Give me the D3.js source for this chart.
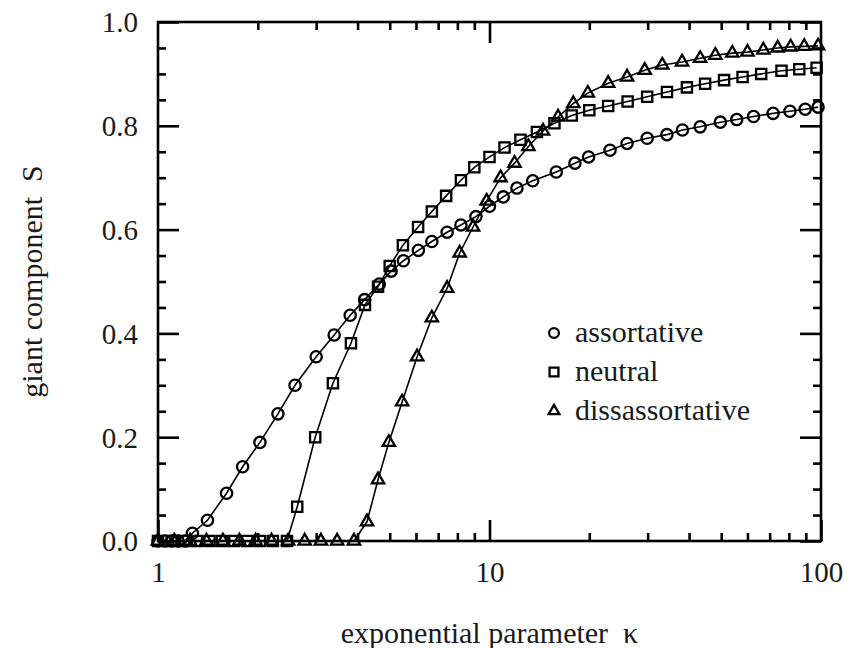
<!DOCTYPE html>
<meta charset="utf-8">
<head>
	<title>giant component vs exponential parameter</title>
	<style>
		body { margin: 0; background: #fff; }
		svg { display: block; }
		svg text { font-family: "Liberation Serif", "DejaVu Serif", serif !important; fill: #1a1a1a; }
		.frame { fill: none; stroke: #000; stroke-width: 2.6; }
		.tick line { stroke: #000; stroke-width: 2.6; }
		.domain { display: none; }
		.curve { fill: none; stroke: #000; stroke-width: 1.6; }
		.mark { fill: none; stroke: #000; stroke-width: 2.3; }
	</style>
	<script src="https://cdn.jsdelivr.net/npm/d3@7"></script>
</head>
<body>
<div id="chart"></div>
<script>
	// values
	const assortK = [1.0, 1.05, 1.1, 1.15, 1.21, 1.27, 1.41, 1.61, 1.80, 2.03, 2.30, 2.59, 3.0, 3.4, 3.8, 4.2, 4.65, 5.05, 5.5, 6.1, 6.7, 7.45, 8.2, 9.1, 10.0, 11.0, 12.1, 13.5, 15.9, 18.1, 19.9, 23.1, 26.0, 29.9, 34.3, 38.2, 43.2, 49.7, 55.7, 62.6, 71.7, 80.6, 89.6, 98];
	const assortS = [0, 0, 0, 0, 0, 0.015, 0.04, 0.092, 0.143, 0.19, 0.245, 0.30, 0.355, 0.397, 0.435, 0.465, 0.495, 0.52, 0.54, 0.56, 0.577, 0.595, 0.609, 0.625, 0.645, 0.663, 0.68, 0.694, 0.711, 0.728, 0.74, 0.753, 0.766, 0.776, 0.783, 0.792, 0.798, 0.807, 0.812, 0.818, 0.824, 0.828, 0.832, 0.836];

	const neutralK = [1.0, 1.1, 1.2, 1.31, 1.43, 1.56, 1.7, 1.86, 2.03, 2.22, 2.45, 2.63, 2.98, 3.37, 3.82, 4.21, 4.61, 5.0, 5.48, 6.09, 6.7, 7.4, 8.2, 9.0, 10.0, 11.1, 12.4, 13.9, 15.7, 17.7, 20.0, 22.8, 26.1, 29.9, 34.3, 39.4, 44.7, 51, 58, 66, 76, 86, 97];
	const neutralS = [0, 0, 0, 0, 0, 0, 0, 0, 0, 0, 0, 0.066, 0.20, 0.304, 0.381, 0.455, 0.49, 0.53, 0.57, 0.605, 0.635, 0.665, 0.695, 0.72, 0.74, 0.758, 0.773, 0.788, 0.805, 0.82, 0.83, 0.838, 0.847, 0.856, 0.865, 0.874, 0.881, 0.888, 0.894, 0.9, 0.906, 0.909, 0.912];

	const disK = [1.0, 1.12, 1.25, 1.4, 1.57, 1.76, 1.97, 2.2, 2.47, 2.77, 3.1, 3.47, 3.9, 4.27, 4.61, 4.97, 5.45, 6.05, 6.7, 7.45, 8.13, 8.92, 9.8, 10.8, 11.9, 13.1, 14.5, 16.1, 17.9, 19.8, 22.8, 26, 29.4, 33.2, 38.1, 43.2, 48, 54, 60, 67, 74, 81, 89, 98];
	const disS = [0, 0, 0, 0, 0, 0, 0, 0, 0, 0, 0, 0, 0, 0.037, 0.118, 0.19, 0.268, 0.355, 0.43, 0.487, 0.555, 0.605, 0.655, 0.70, 0.728, 0.76, 0.79, 0.817, 0.843, 0.863, 0.882, 0.894, 0.907, 0.917, 0.923, 0.93, 0.936, 0.94, 0.942, 0.946, 0.95, 0.952, 0.953, 0.954];

	const seriesNames = ['assortative', 'neutral', 'dissassortative'];
	const xMajor = [1, 10, 100];
	const xMinor = [2, 3, 4, 5, 6, 7, 8, 9, 20, 30, 40, 50, 60, 70, 80, 90];
	const yMajor = [0, 0.2, 0.4, 0.6, 0.8, 1.0];
	const yMinor = [0.05, 0.1, 0.15, 0.25, 0.3, 0.35, 0.45, 0.5, 0.55, 0.65, 0.7, 0.75, 0.85, 0.9, 0.95];

	const W = 857, H = 648;
	const M = {left: 158, right: 36, top: 22, bottom: 107};
	const iw = W - M.left - M.right, ih = H - M.top - M.bottom;
	const FONT = '"Liberation Serif", "DejaVu Serif", serif';

	const svg = d3.select('#chart').append('svg').attr('width', W).attr('height', H);
	const g = svg.append('g').attr('transform', `translate(${M.left},${M.top})`);

	const x = d3.scaleLog().domain([1, 100]).range([0, iw]);
	const y = d3.scaleLinear().domain([0, 1]).range([ih, 0]);

	const BIG = 21, SMALL = 8;
	// ticks on all four sides, pointing inward
	const addAxis = (axis, vals, size, tr, labels) => {
		const a = axis.tickValues(vals).tickSize(-size).tickPadding(0);
		if (!labels) a.tickFormat('');
		return g.append('g').attr('transform', tr).call(a).attr('font-family', FONT);
	};
	addAxis(d3.axisBottom(x), xMinor, SMALL, `translate(0,${ih})`);
	addAxis(d3.axisTop(x), xMinor, SMALL, 'translate(0,0)');
	addAxis(d3.axisTop(x), [10], BIG, 'translate(0,0)');
	addAxis(d3.axisLeft(y), yMinor, SMALL, 'translate(0,0)');
	addAxis(d3.axisRight(y), yMinor, SMALL, `translate(${iw},0)`);
	addAxis(d3.axisRight(y), yMajor, BIG, `translate(${iw},0)`);

	const bx = addAxis(d3.axisBottom(x), xMajor, BIG, `translate(0,${ih})`, true);
	bx.selectAll('text').attr('y', 41).attr('dy', 0).style('font-size', '29px').style('font-family', FONT)
		.text(d => d3.format('d')(d));
	const ly = addAxis(d3.axisLeft(y), yMajor, BIG, 'translate(0,0)', true);
	ly.selectAll('text').attr('x', -20).attr('dy', '0.34em').style('font-size', '29px').style('font-family', FONT)
		.text(d => d3.format('.1f')(d));

	g.append('rect').attr('class', 'frame').attr('width', iw).attr('height', ih);

	const series = [
		{k: assortK, s: assortS, sym: d3.symbolCircle, size: 100},
		{k: neutralK, s: neutralS, sym: d3.symbolSquare, size: 105},
		{k: disK, s: disS, sym: d3.symbolTriangle, size: 66}
	];
	const line = d3.line().x(d => x(d[0])).y(d => y(d[1]));

	series.forEach(sr => {
		const pts = sr.k.map((k, i) => [k, sr.s[i]]);
		g.append('path').attr('class', 'curve').attr('d', line(pts));
		g.selectAll(null).data(pts).enter().append('path')
			.attr('class', 'mark')
			.attr('transform', d => `translate(${x(d[0])},${y(d[1])})`)
			.attr('d', d3.symbol().type(sr.sym).size(sr.size));
	});

	// legend
	const leg = svg.append('g').attr('transform', 'translate(554,342)');
	series.forEach((sr, i) => {
		const row = leg.append('g').attr('transform', `translate(0,${i * 39})`);
		row.append('path').attr('class', 'mark').attr('transform', 'translate(0,-9)')
			.attr('d', d3.symbol().type(sr.sym).size(sr.size * 0.75));
		row.append('text').attr('x', 21).attr('y', 0)
			.style('font-size', '30px').style('font-family', FONT).text(seriesNames[i]);
	});

	// axis titles
	svg.append('text').attr('x', M.left + iw / 2).attr('y', 643).attr('text-anchor', 'middle')
		.style('font-size', '30px').style('font-family', FONT).style('white-space', 'pre')
		.text('exponential parameter  \u03ba');
	svg.append('text').attr('transform', `translate(42,${M.top + ih / 2}) rotate(-90)`)
		.attr('text-anchor', 'middle').style('font-size', '30px').style('font-family', FONT).style('white-space', 'pre')
		.text('giant component  S');
</script>
</body>
